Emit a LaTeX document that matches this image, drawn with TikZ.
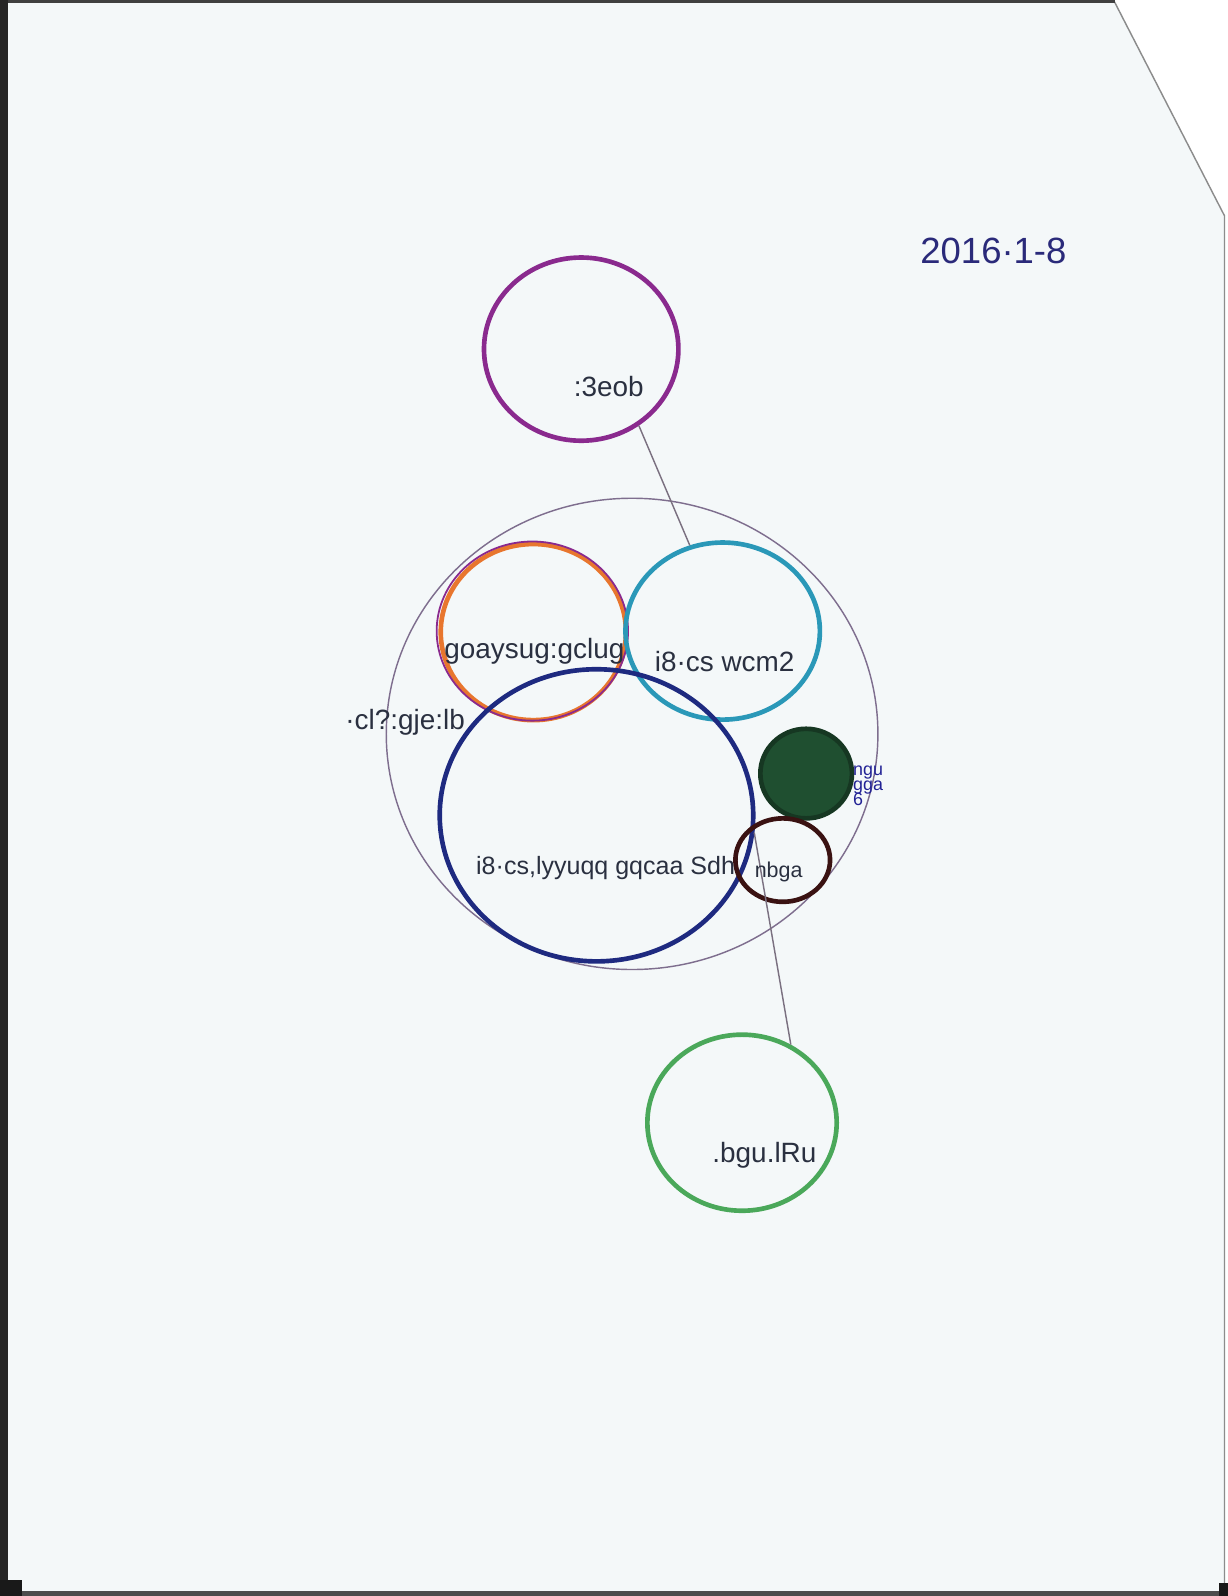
\documentclass[tikz,border=0pt]{standalone}
\usepackage{fontspec}
\setmainfont{Liberation Sans}
\usetikzlibrary{shapes.geometric}
\definecolor{paper}{HTML}{F4F8F9}
\definecolor{cpurple}{HTML}{8A2A8E}
\definecolor{couter}{HTML}{7E6E8E}
\definecolor{corange}{HTML}{E8762E}
\definecolor{ccyan}{HTML}{2A98B8}
\definecolor{cnavy}{HTML}{1E2A80}
\definecolor{cdkgreen}{HTML}{1F4F30}
\definecolor{cbrown}{HTML}{3A1212}
\definecolor{cgreen}{HTML}{4AA85A}
\definecolor{cink}{HTML}{2A3040}
\definecolor{cdate}{HTML}{2A2A7A}
\definecolor{cline}{HTML}{7A7080}
\tikzset{
  ring/.style={ellipse, draw, inner sep=0pt},
  thick ring/.style={ring, line width=6.5pt},
  hand/.style={text=cink, font=\fontsize{39}{44}\selectfont, inner sep=0pt},
  small hand/.style={text=cdate!80!blue, font=\fontsize{25}{27}\selectfont, inner sep=0pt},
  link/.style={draw=cline, line width=2pt},
}
\begin{document}
\begin{tikzpicture}[x=0.05cm, y=-0.05cm]
% paper and edges
\fill[white] (0,0) rectangle (1206,1568);
\fill[paper] (0,0) -- (1095,0) -- (1203,212) -- (1203,1568) -- (0,1568) -- cycle;
\draw[line width=2pt, black!45] (1095,2) -- (1203,212) -- (1203,1562);
\fill[black!75] (0,0) rectangle (1095,3);
\fill[black!85] (0,0) rectangle (8,1568);
\fill[black!70] (0,1563) rectangle (1206,1568);
\fill[black!90] (0,1552) rectangle (22,1568);
\fill[black!90] (1198,1555) rectangle (1206,1568);

% circles
\node[ring, draw=couter, line width=2pt, minimum width=483*0.05cm, minimum height=463*0.05cm] (outer) at (621,721) {};
\node[thick ring, draw=cpurple, minimum width=191*0.05cm, minimum height=180*0.05cm] (top) at (571,343) {};
\node[thick ring, draw=corange, minimum width=182*0.05cm, minimum height=173*0.05cm] (orange) at (524,621) {};
\node[ring, draw=cpurple, line width=2.5pt, minimum width=188*0.05cm, minimum height=176*0.05cm] (orangein) at (523,620) {};
\node[thick ring, draw=ccyan, minimum width=191*0.05cm, minimum height=174*0.05cm] (cyan) at (710,620) {};
\node[thick ring, draw=cnavy, minimum width=308*0.05cm, minimum height=287*0.05cm] (navy) at (586,801) {};
\node[thick ring, draw=cdkgreen!70!black, fill=cdkgreen, minimum width=90*0.05cm, minimum height=88*0.05cm] (dot) at (792,760) {};
\node[thick ring, draw=cbrown, minimum width=93*0.05cm, minimum height=82*0.05cm] (brown) at (769,845) {};
\node[thick ring, draw=cgreen, minimum width=186*0.05cm, minimum height=173*0.05cm] (green) at (729,1103) {};

% connectors
\coordinate (linkstart) at (741,818);
\draw[link] (top.-53.5) -- (cyan.111);
\draw[link] (linkstart) -- (green.58);

% labels
\node[hand] (ltop) at (598,380) {:3eob};
\node[hand] (lorange) at (525,640) {goaysug:gclug};
\node[hand] (lcyan) at (712,650) {i8·cs wcm2};
\node[hand] (lleft) at (398,710) {·cl?:gje:lb};
\node[hand, font=\fontsize{35}{40}\selectfont] (lnavy) at (595,853) {i8·cs,lyyuqq gqcaa Sdh};
\node[hand, font=\fontsize{30}{34}\selectfont] (lbrown) at (765,857) {nbga};
\node[small hand, align=left, anchor=north west] (ldot) at (838,752) {ngu\\[-6pt]gga\\[-6pt]6};
\node[hand] (lgreen) at (751,1135) {.bgu.lRu};
\node[hand, text=cdate, font=\fontsize{51}{56}\selectfont] (date) at (976,247) {2016·1-8};
\end{tikzpicture}
\end{document}
